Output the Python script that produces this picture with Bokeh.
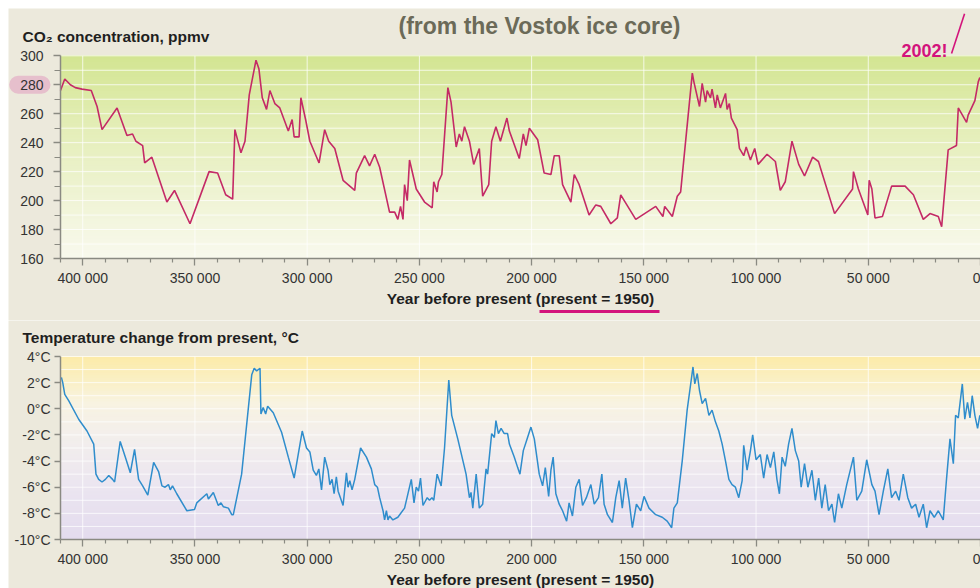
import numpy as np
from bokeh.plotting import figure
from bokeh.layouts import column
from bokeh.models import Range1d, FixedTicker, Label, Arrow
from bokeh.embed import file_html
from bokeh.resources import INLINE

# ---------------- data ----------------
co2_years = [409900, 408000, 405500, 403300, 400300, 396200, 393600, 391400, 384700, 380300,
             377800, 376300, 373300, 372400, 369200, 362500, 359100, 352200, 347000, 343700,
             339900, 336300, 333200, 332200, 329500, 327700, 325800, 322800, 321500, 320000,
             318100, 316600, 314400, 312200, 308400, 306700, 305800, 303600, 302800, 300700,
             298800, 294700, 292200, 290400, 287700, 284000, 278800, 278100, 274400, 272200,
             269900, 267700, 263300, 261000, 259600, 258400, 257300, 256600, 255400, 254400,
             251400, 247700, 244300, 243600, 242100, 241500, 240000, 237300, 235900, 233600,
             232200, 231100, 229900, 227700, 225800, 223300, 221800, 219100, 217800, 215900,
             213900, 211000, 209900, 205500, 203700, 202500, 201000, 197300, 194400, 191400,
             189900, 187700, 186200, 182500, 181000, 178800, 174400, 171400, 169200, 164700,
             161800, 160300, 153600, 144700, 141500, 140700, 137300, 135100, 133600, 128400,
             127700, 125200, 124000, 122500, 121800, 120300, 119600, 118100, 117300, 115900,
             113600, 112900, 111900, 111000, 108400, 107400, 105500, 104400, 102500, 100600,
             99100, 95100, 91400, 89200, 87000, 84000, 81000, 78400, 74800, 72200,
             65000, 57000, 56600, 54400, 50200, 49600, 48400, 47000, 43700, 39600,
             33600, 29900, 25500, 22500, 18800, 17300, 14400, 10700, 9900, 6200,
             5500, 2500, 1000, 300]
co2_ppmv = [276, 284, 280, 278, 277, 276, 265, 249, 264, 245,
            246, 241, 238, 226, 230, 199, 207, 184, 206, 220,
            219, 204, 201, 249, 233, 241, 273, 297, 291, 271,
            263, 276, 267, 264, 248, 256, 244, 244, 271, 256,
            241, 226, 249, 241, 236, 214, 207, 219, 231, 224,
            232, 223, 192, 192, 187, 196, 187, 211, 200, 228,
            208, 199, 195, 213, 206, 213, 218, 278, 268, 237,
            246, 241, 251, 241, 225, 236, 203, 211, 241, 251,
            241, 257, 248, 229, 246, 238, 250, 242, 219, 218,
            231, 231, 211, 199, 218, 211, 190, 197, 196, 184,
            188, 204, 187, 196, 189, 196, 189, 203, 206, 288,
            282, 265, 281, 268, 276, 271, 277, 264, 273, 264,
            274, 263, 267, 257, 249, 236, 231, 237, 228, 236,
            225, 232, 227, 207, 213, 241, 225, 217, 230, 227,
            191, 208, 220, 208, 190, 214, 208, 188, 189, 210,
            210, 204, 187, 191, 189, 182, 235, 238, 264, 254,
            259, 269, 282, 285]

temp_years = [409500, 408900, 408000, 406200, 401800, 398100, 395100, 394100, 392900, 391400,
              389900, 388400, 386700, 385800, 383300, 381000, 378800, 376900, 375100, 373300,
              371000, 368400, 366200, 364700, 363300, 361800, 361000, 360000, 358100, 353600,
              350200, 349200, 344700, 344000, 341800, 339600, 338400, 337300, 335100, 333600,
              332900, 329200, 324700, 323600, 322500, 321000, 320600, 319600, 318500, 317600,
              315100, 311400, 308400, 305800, 302200, 300300, 298800, 297300, 295900, 294800,
              293600, 292200, 290700, 289900, 288900, 288000, 287000, 286200, 284000, 282500,
              281800, 281000, 280000, 278800, 276200, 273600, 271400, 269900, 268700, 267700,
              266200, 265500, 264700, 264000, 263300, 261800, 259600, 256600, 253600, 252400,
              251400, 250400, 249500, 248400, 246500, 245500, 244400, 243600, 242100, 240300,
              238800, 236900, 235600, 232900, 229200, 227700, 227000, 226200, 224700, 223300,
              221800, 220300, 219600, 217800, 216600, 215900, 214800, 213600, 212200, 210700,
              209900, 207700, 206200, 205200, 203700, 201800, 200300, 198800, 196600, 195100,
              193900, 192400, 191400, 190400, 189200, 187700, 186200, 184400, 183300, 181800,
              180300, 178800, 177300, 175600, 173600, 172100, 170200, 168700, 167700, 166200,
              164000, 162500, 161000, 159600, 158100, 156600, 155100, 153300, 151400, 149900,
              147700, 144700, 141800, 139600, 137600, 136600, 135100, 132900, 130700, 129200,
              128100, 127300, 126200, 125200, 124000, 122500, 121000, 119600, 118100, 116600,
              115100, 113600, 112100, 110700, 109200, 107700, 106200, 105500, 104000, 102500,
              101500, 100000, 98100, 96600, 95100, 93600, 92100, 90700, 89600, 88400,
              87000, 85500, 84000, 82500, 81000, 79900, 78400, 76900, 75100, 73600,
              72100, 70700, 69200, 67700, 66200, 65000, 63300, 61800, 59600, 56600,
              55100, 52900, 50700, 48400, 47000, 45200, 43300, 41300, 39600, 37800,
              36300, 34400, 32400, 30700, 28900, 27400, 25500, 24000, 22500, 20600,
              18800, 16600, 15100, 13600, 12100, 11100, 9900, 8100, 7000, 5800,
              4700, 3700, 2500, 1300, 300]
temp_change = [2.4, 2.0, 1.1, 0.6, -0.8, -1.7, -2.7, -5.0, -5.4, -5.6,
               -5.4, -5.1, -5.4, -5.6, -2.5, -3.7, -4.9, -3.1, -5.4, -5.9,
               -6.6, -4.1, -4.8, -5.9, -6.0, -5.8, -6.2, -5.9, -6.5, -7.8,
               -7.7, -7.2, -6.5, -6.9, -6.4, -7.4, -7.2, -7.5, -7.6, -8.1,
               -8.1, -5.0, 2.6, 3.1, 2.9, 3.1, -0.4, 0.1, -0.4, 0.2,
               -0.3, -1.8, -3.7, -5.3, -1.7, -3.0, -3.3, -4.7, -5.1, -4.6,
               -6.2, -3.7, -4.7, -5.8, -5.4, -6.5, -5.2, -6.3, -7.4, -4.9,
               -6.0, -5.5, -6.2, -5.4, -3.0, -3.7, -4.6, -5.8, -6.0, -6.8,
               -7.8, -8.5, -7.8, -8.5, -8.2, -8.5, -8.3, -7.6, -5.4, -7.2,
               -6.0, -6.3, -5.3, -7.4, -6.8, -7.0, -6.8, -7.0, -5.0, -5.9,
               -3.0, 2.2, -0.5, -2.3, -5.0, -6.8, -6.4, -7.6, -5.0, -7.6,
               -7.3, -4.6, -5.0, -1.9, -2.2, -0.9, -1.9, -1.5, -1.9, -1.9,
               -2.7, -3.7, -4.5, -5.0, -3.2, -2.2, -1.4, -2.3, -5.0, -5.9,
               -4.5, -6.7, -4.7, -3.7, -6.5, -7.3, -7.8, -8.6, -7.2, -8.2,
               -6.0, -5.4, -7.4, -6.8, -5.8, -7.3, -6.8, -5.0, -7.3, -8.1,
               -8.7, -6.8, -5.5, -7.6, -5.3, -7.0, -9.1, -7.3, -7.8, -6.7,
               -7.6, -8.1, -8.3, -8.6, -9.1, -7.6, -7.2, -4.0, -0.1, 1.8,
               3.2, 1.9, 2.7, 1.4, 0.4, 0.8, -0.5, -0.1, -1.0, -1.7,
               -2.7, -4.0, -5.4, -5.8, -6.0, -6.8, -5.5, -2.8, -4.7, -3.2,
               -2.0, -3.9, -3.5, -5.3, -3.5, -4.5, -3.3, -5.4, -6.5, -3.7,
               -4.4, -2.7, -1.5, -3.2, -4.0, -6.0, -4.2, -6.0, -4.7, -7.0,
               -5.3, -7.6, -5.8, -7.8, -7.3, -8.7, -6.5, -7.6, -5.8, -3.7,
               -7.0, -6.3, -3.9, -5.8, -6.3, -8.1, -6.3, -4.6, -6.8, -6.3,
               -7.0, -5.0, -6.8, -7.6, -7.3, -8.3, -7.3, -9.1, -7.8, -8.3,
               -7.8, -8.5, -5.3, -2.3, -4.2, -0.5, -0.7, 1.9, -0.8, 0.5,
               -0.7, 1.0, -0.5, -1.5, -0.5]

# "2002!" pointer stroke (towards the modern value, off the scale)
pointer_years = [12900, 7100]
pointer_ppmv = [301.6, 329.0]

x_major = list(range(0, 400001, 50000))
x_minor = [v for v in range(0, 410001, 10000) if v % 50000]
x_labels = {v: f"{v:,}".replace(",", " ") for v in x_major}
co2_major = list(range(160, 301, 20))
co2_minor = list(range(170, 300, 20))
co2_grid = list(range(170, 301, 10))
temp_major = list(range(-10, 5, 2))
temp_labels = {v: f"{v}°C" for v in temp_major}
temp_grid = list(range(-9, 5, 1))

# ---------------- style / layout constants ----------------
BEIGE = "#ece9dc"
FONT = "Liberation Sans"
DARK = "#1f1f1f"
AXIS = "#8a8a82"
MAGENTA = "#d3137b"
CO2_COLOR = "#c42a66"
TEMP_COLOR = "#2f8dcc"
GRID = "white"

W = 972                 # figure width (px)
AX_LEFT = 52            # px from figure left to the y axis
PLOT_W = W - AX_LEFT    # px spanned by the data window
X_OLD, X_NEW = 409900, 0
XR = Range1d(X_OLD + (X_OLD - X_NEW) * AX_LEFT / PLOT_W, X_NEW)


def y_range_for(h, top_px, bottom_px, v_top, v_bottom):
    s = (bottom_px - top_px) / (v_top - v_bottom)
    return Range1d(v_bottom - (h - bottom_px) / s, v_top + top_px / s)


def gradient(stops, lo, hi, n=70):
    edges = np.linspace(lo, hi, n + 1)
    mids = (edges[:-1] + edges[1:]) / 2
    vals = [s[0] for s in stops]
    cols = []
    for m in mids:
        rgb = [np.interp(m, vals, [s[1][k] for s in stops]) for k in range(3)]
        cols.append("#%02x%02x%02x" % tuple(int(round(c)) for c in rgb))
    return edges[:-1], edges[1:], cols


def make_fig(h, yr):
    p = figure(width=W, height=h, x_range=XR, y_range=yr,
               output_backend="svg", toolbar_location=None,
               min_border_left=0, min_border_right=0, min_border_top=0, min_border_bottom=0,
               background_fill_color=BEIGE, border_fill_color=BEIGE, outline_line_color=None)
    p.grid.visible = False
    return p


def panel(p, lo, hi, stops, grid_vals):
    b, t, c = gradient(stops, lo, hi)
    p.quad(left=X_OLD, right=X_NEW, bottom=b, top=t, fill_color=c, line_color=c,
           line_width=1, level="image")
    p.segment(x0=X_OLD, y0=grid_vals, x1=X_NEW, y1=grid_vals, line_color=GRID,
              line_alpha=0.75, line_width=1, level="underlay")
    p.segment(x0=x_major, y0=lo, x1=x_major, y1=hi, line_color=GRID,
              line_alpha=0.75, line_width=1, level="underlay")


def style_axis(ax):
    ax.axis_line_color = AXIS
    ax.axis_line_width = 1.5
    ax.major_tick_line_color = AXIS
    ax.minor_tick_line_color = AXIS
    ax.major_tick_line_width = 1.3
    ax.minor_tick_line_width = 1.2
    ax.major_tick_in = 0
    ax.minor_tick_in = 0
    ax.major_label_text_font = FONT
    ax.major_label_text_font_size = "14px"
    ax.major_label_text_color = "#333333"


def style_xaxis(ax, y0):
    style_axis(ax)
    ax.fixed_location = y0
    ax.bounds = (X_NEW, X_OLD)
    ax.ticker = FixedTicker(ticks=x_major, minor_ticks=x_minor)
    ax.major_label_overrides = x_labels
    ax.major_tick_out = 7
    ax.minor_tick_out = 4
    ax.major_label_standoff = 4
    ax.axis_label = "Year before present (present = 1950)"
    ax.axis_label_text_font = FONT
    ax.axis_label_text_font_style = "bold"
    ax.axis_label_text_font_size = "15.5px"
    ax.axis_label_text_color = DARK
    ax.axis_label_standoff = 1


def style_yaxis(ax, lo, hi):
    style_axis(ax)
    ax.fixed_location = X_OLD
    ax.bounds = (lo, hi)


def title_label(text, x, y, size, color, align="left"):
    return Label(x=x, y=y, x_units="screen", y_units="screen", text=text,
                 text_font=FONT, text_font_style="bold", text_font_size=size,
                 text_color=color, text_align=align, text_baseline="middle")


# ---------------- top panel: CO2 ----------------
HA = 312
pA = make_fig(HA, y_range_for(HA, 47.3, 250, 300, 160))
panel(pA, 160, 300, [(160, (249, 249, 238)), (200, (240, 244, 214)),
                     (250, (228, 238, 184)), (300, (211, 229, 146))], co2_grid)
pA.line(co2_years, co2_ppmv, line_color=CO2_COLOR, line_width=1.6)
pA.line(pointer_years, pointer_ppmv, line_color=MAGENTA, line_width=1.6)

ya = pA.yaxis[0]
style_yaxis(ya, 160, 300)
ya.ticker = FixedTicker(ticks=co2_major, minor_ticks=co2_minor)
ya.major_label_overrides = {280: ""}
ya.major_tick_out = 7
ya.minor_tick_out = 6
ya.major_label_standoff = 10
style_xaxis(pA.xaxis[0], 160)

pA.add_layout(Label(x=42, y=280, x_units="screen", y_units="data", text="280",
                    text_font=FONT, text_font_size="14px", text_color="#333333",
                    text_align="right", text_baseline="middle",
                    background_fill_color="#e6bfcc", border_radius=11,
                    padding=dict(left=11, right=7, top=4, bottom=4)))
pA.add_layout(title_label("CO₂ concentration, ppmv", 14, 284, "15.5px", DARK))
pA.add_layout(title_label("(from the Vostok ice core)", 531, 295, "23px", "#6b6a58", "center"))
pA.add_layout(title_label("2002!", 939, 270, "18px", MAGENTA, "right"))
pA.add_layout(Arrow(end=None, x_start=531, y_start=9, x_end=651, y_end=9,
                    start_units="screen", end_units="screen",
                    line_color=MAGENTA, line_width=3))

# ---------------- bottom panel: temperature ----------------
HB = 268
pB = make_fig(HB, y_range_for(HB, 36, 219, 4, -10))
panel(pB, -10, 4, [(-10, (227, 219, 238)), (-6, (235, 229, 240)), (-2, (243, 239, 236)),
                   (0.5, (248, 243, 225)), (2, (250, 240, 200)), (4, (252, 235, 168))],
      temp_grid)
pB.line(temp_years, temp_change, line_color=TEMP_COLOR, line_width=1.5)

yb = pB.yaxis[0]
style_yaxis(yb, -10, 4)
yb.ticker = FixedTicker(ticks=temp_major, minor_ticks=[])
yb.major_label_overrides = temp_labels
yb.major_tick_out = 6
yb.major_label_standoff = 4
style_xaxis(pB.xaxis[0], -10)

pB.add_layout(title_label("Temperature change from present, °C", 14, 251, "15.5px", DARK))

layout = column(pA, pB, spacing=0, margin=(8, 0, 0, 8))
open("out.html", "w").write(file_html(layout, INLINE))
